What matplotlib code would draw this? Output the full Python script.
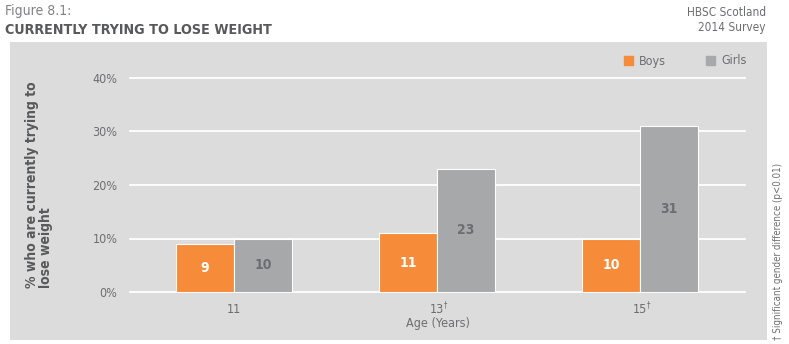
"""Bar chart: share of young people currently trying to lose weight, by age and gender."""
import matplotlib
matplotlib.use("Agg")
import matplotlib.pyplot as plt
import matplotlib.patches as mpatches
import numpy as np

# ---------- data ----------
ages = ["11", "13", "15"]
significant = [False, True, True]   # dagger marks a significant gender difference
boys = [9, 11, 10]
girls = [10, 23, 31]
y_ticks = [0, 10, 20, 30, 40]

ORANGE = "#f68b3a"
GREY_BAR = "#a7a8aa"
PANEL = "#dcdcdc"
TEXT = "#6d6e71"
DARK = "#58595b"

plt.rcParams["font.family"] = ["DejaVu Sans"]
plt.rcParams["font.stretch"] = "condensed"

W, H = 789, 344
fig = plt.figure(figsize=(W / 100, H / 100), dpi=100)
fig.patch.set_facecolor("white")

def fx(px):
    return px / W

def fy(py):
    return 1 - py / H

# grey background panel
fig.patches.append(mpatches.Rectangle((fx(10), fy(340)), fx(757), (340 - 42) / H,
                                      transform=fig.transFigure, facecolor=PANEL,
                                      edgecolor="none", zorder=-5))

ax = fig.add_axes([fx(130), fy(292), fx(745 - 130), (292 - 78) / H])
ax.set_zorder(2)
ax.set_facecolor("none")
x = np.arange(len(ages))
bw = 0.285

ax.set_xlim(-0.512, 2.517)
ax.set_ylim(0, 40)
for t in y_ticks:
    ax.axhline(t, color="white", linewidth=1.3, zorder=1, clip_on=False)

ax.bar(x - bw / 2, boys, bw, color=ORANGE, edgecolor="white", linewidth=0.8, zorder=3)
ax.bar(x + bw / 2, girls, bw, color=GREY_BAR, edgecolor="white", linewidth=0.8, zorder=3)

for i in range(len(ages)):
    ax.text(x[i] - bw / 2, boys[i] / 2, f"{boys[i]}", ha="center", va="center",
            color="white", fontsize=10, fontweight="bold", zorder=4)
    ax.text(x[i] + bw / 2, girls[i] / 2, f"{girls[i]}", ha="center", va="center",
            color=TEXT, fontsize=10, fontweight="bold", zorder=4)

for s in ax.spines.values():
    s.set_visible(False)
ax.tick_params(length=0, colors=TEXT, labelsize=9)
ax.tick_params(axis="y", pad=9)
ax.tick_params(axis="x", pad=8)
ax.set_yticks(y_ticks)
ax.set_yticklabels([f"{t}%" for t in y_ticks])
ax.set_xticks(x)
ax.set_xticklabels(ages)
for i, sig in enumerate(significant):
    if sig:
        ax.annotate("\u2020", xy=(x[i], 0), xytext=(5, -9), textcoords="offset points",
                    ha="left", va="center", fontsize=5.5, color=TEXT)

ax.set_xlabel("Age (Years)", color=TEXT, fontsize=9, labelpad=1)
ax.set_ylabel("% who are currently trying to\nlose weight", color=DARK, fontsize=10,
              fontweight="bold", linespacing=1.0, labelpad=28, multialignment="left")

# legend
handles = [mpatches.Patch(color=ORANGE, label="Boys"),
           mpatches.Patch(color=GREY_BAR, label="Girls")]
fig.legend(handles=handles, loc="center left", bbox_to_anchor=(fx(624), fy(61)),
           ncol=2, frameon=False, fontsize=9, labelcolor=TEXT, handlelength=0.7,
           handleheight=0.7, handletextpad=0.5, columnspacing=3.2,
           borderaxespad=0, borderpad=0)

# titles and notes
fig.text(fx(5), fy(11), "Figure 8.1:", color="#808285", fontsize=10, va="center", ha="left")
fig.text(fx(5), fy(30), "CURRENTLY TRYING TO LOSE WEIGHT", color=DARK, fontsize=10.3,
         fontweight="bold", va="center", ha="left")
fig.text(fx(766), fy(20), "HBSC Scotland\n2014 Survey", color=TEXT, fontsize=8.5,
         va="center", ha="right", linespacing=1.1)
fig.text(fx(778), fy(340), "\u2020 Significant gender difference (p<0.01)", color=TEXT,
         fontsize=7, rotation=90, va="bottom", ha="center")

fig.savefig("out.png", dpi=100, facecolor="white")
